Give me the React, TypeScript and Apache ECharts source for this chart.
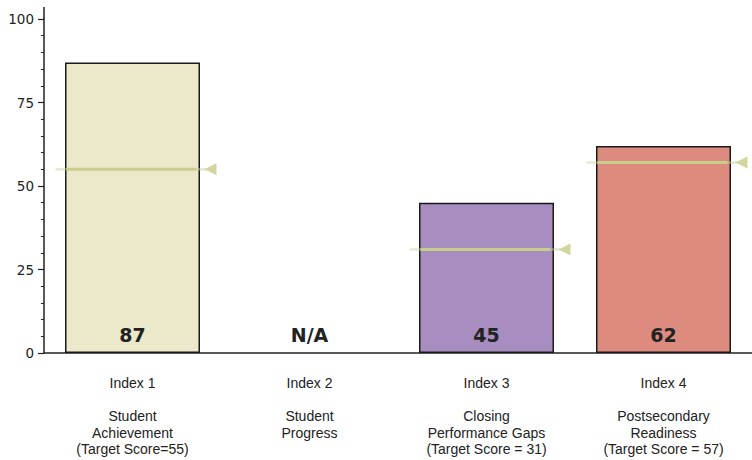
import React, { useEffect, useRef } from "react";
import * as echarts from "echarts";

const categories = ["Index 1", "Index 2", "Index 3", "Index 4"];
const subtitles = [
  "Student\nAchievement\n(Target Score=55)",
  "Student\nProgress",
  "Closing\nPerformance Gaps\n(Target Score = 31)",
  "Postsecondary\nReadiness\n(Target Score = 57)",
];
const scores: (number | null)[] = [87, null, 45, 62];
const targets: (number | null)[] = [55, null, 31, 57];
const barColors = ["#ece8ca", "#ffffff", "#a88dc0", "#dd8a7f"];
const yTicks = [0, 25, 50, 75, 100];

export default function App() {
  const ref = useRef<HTMLDivElement>(null);
  useEffect(() => {
    document.body.style.margin = "0";
    const chart = echarts.init(ref.current!, null, { renderer: "svg" });
    const barData = scores.map((v, i) =>
      v === null
        ? { value: 0, label: { formatter: "N/A" }, itemStyle: { borderWidth: 0, color: "transparent" } }
        : { value: v, itemStyle: { color: barColors[i] } }
    );
    const targetData = targets
      .map((t, i) => (t === null ? null : [i, t]))
      .filter((d) => d !== null);
    chart.setOption({
      animation: false,
      grid: { left: 44, right: -5, top: 19, bottom: 107 },
      xAxis: {
        type: "category",
        data: categories.map((c, i) => c + "\n\n" + subtitles[i]),
        axisLine: { lineStyle: { color: "#222", width: 1.5 } },
        axisTick: { show: false },
        axisLabel: {
          color: "#222",
          fontSize: 14,
          lineHeight: 16.5,
          margin: 22,
          interval: 0,
          fontFamily: "'Liberation Sans', Arial, sans-serif",
        },
      },
      yAxis: {
        type: "value",
        min: yTicks[0],
        max: yTicks[yTicks.length - 1],
        interval: 25,
        splitLine: { show: false },
        axisLine: { show: true, lineStyle: { color: "#222", width: 1.5 } },
        axisTick: { show: true, length: 6, lineStyle: { color: "#222", width: 1.2 } },
        minorTick: { show: true, splitNumber: 5, length: 3, lineStyle: { color: "#222", width: 1 } },
        axisLabel: { color: "#222", fontSize: 13.5, margin: 10, fontFamily: "'DejaVu Sans', sans-serif" },
      },
      graphic: [
        {
          type: "line",
          shape: { x1: 44, y1: 7, x2: 44, y2: 19 },
          style: { stroke: "#222", lineWidth: 1.5 },
        },
      ],
      series: [
        {
          type: "bar",
          data: barData,
          barWidth: 135,
          itemStyle: { borderColor: "#1a1a1a", borderWidth: 1.5 },
          label: {
            show: true,
            position: "insideBottom",
            distance: 9,
            color: "#222",
            fontSize: 19,
            fontWeight: "bold",
            fontFamily: "'DejaVu Sans', sans-serif",
          },
          z: 2,
        },
        {
          type: "custom",
          data: targetData,
          z: 5,
          renderItem: (params: any, api: any) => {
            const p = api.coord([api.value(0), api.value(1)]);
            const x = p[0];
            const y = p[1];
            return {
              type: "group",
              children: [
                {
                  type: "line",
                  shape: { x1: x - 77, y1: y, x2: x - 66, y2: y },
                  style: { stroke: "rgba(200,210,160,0.45)", lineWidth: 2.5 },
                },
                {
                  type: "line",
                  shape: { x1: x - 66, y1: y, x2: x + 64, y2: y },
                  style: { stroke: "#c8cf8c", lineWidth: 3 },
                },
                {
                  type: "line",
                  shape: { x1: x + 64, y1: y, x2: x + 74, y2: y },
                  style: { stroke: "rgba(200,210,160,0.5)", lineWidth: 2.5 },
                },
                {
                  type: "polygon",
                  shape: {
                    points: [
                      [x + 72, y],
                      [x + 84, y - 6],
                      [x + 84, y + 6],
                    ],
                  },
                  style: { fill: "#d3d59c" },
                },
              ],
            };
          },
        },
      ],
    });
    return () => chart.dispose();
  }, []);
  return <div ref={ref} style={{ width: 752, height: 460 }} />;
}
